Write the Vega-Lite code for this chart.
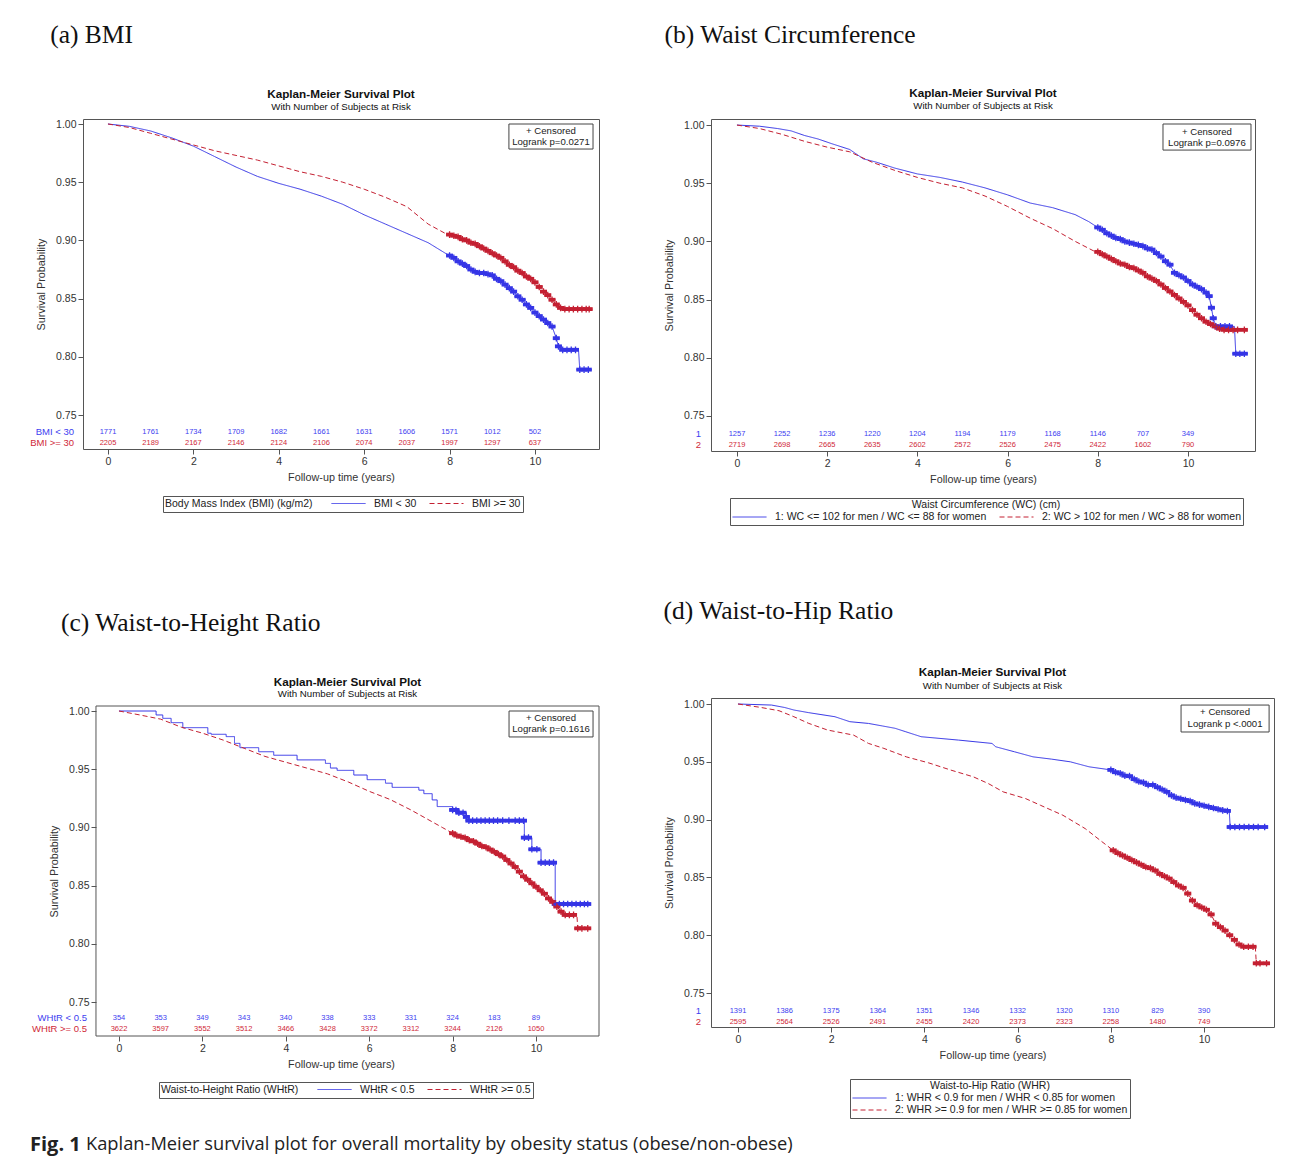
{
"$schema":"https://vega.github.io/schema/vega-lite/v6.json",
"background":"white",
"padding":{"left":29,"top":22,"right":5,"bottom":2},
"datasets":{
"curves":[
{"p":"a","g":1,"t":0,"s":1},{"p":"a","g":1,"t":0.5,"s":0.998},{"p":"a","g":1,"t":1,"s":0.994},{"p":"a","g":1,"t":1.5,"s":0.988},{"p":"a","g":1,"t":2,"s":0.981},{"p":"a","g":1,"t":2.5,"s":0.972},{"p":"a","g":1,"t":3,"s":0.963},{"p":"a","g":1,"t":3.5,"s":0.955},{"p":"a","g":1,"t":4,"s":0.949},{"p":"a","g":1,"t":4.5,"s":0.944},{"p":"a","g":1,"t":5,"s":0.938},{"p":"a","g":1,"t":5.5,"s":0.931},{"p":"a","g":1,"t":6,"s":0.922},{"p":"a","g":1,"t":6.5,"s":0.914},{"p":"a","g":1,"t":7,"s":0.906},{"p":"a","g":1,"t":7.5,"s":0.898},{"p":"a","g":1,"t":7.9,"s":0.889},
{"p":"a","g":1,"t":8,"s":0.887,"c":1},{"p":"a","g":1,"t":8.1,"s":0.885,"c":1},{"p":"a","g":1,"t":8.2,"s":0.882,"c":1},{"p":"a","g":1,"t":8.3,"s":0.88,"c":1},{"p":"a","g":1,"t":8.4,"s":0.878,"c":1},{"p":"a","g":1,"t":8.5,"s":0.875,"c":1},{"p":"a","g":1,"t":8.6,"s":0.873,"c":1},{"p":"a","g":1,"t":8.7,"s":0.872,"c":1},{"p":"a","g":1,"t":8.8,"s":0.872,"c":1},{"p":"a","g":1,"t":8.9,"s":0.871,"c":1},{"p":"a","g":1,"t":9,"s":0.87,"c":1},{"p":"a","g":1,"t":9.1,"s":0.867,"c":1},{"p":"a","g":1,"t":9.2,"s":0.865,"c":1},{"p":"a","g":1,"t":9.3,"s":0.862,"c":1},{"p":"a","g":1,"t":9.4,"s":0.859,"c":1},{"p":"a","g":1,"t":9.5,"s":0.856,"c":1},{"p":"a","g":1,"t":9.6,"s":0.852,"c":1},{"p":"a","g":1,"t":9.7,"s":0.849,"c":1},{"p":"a","g":1,"t":9.8,"s":0.845,"c":1},{"p":"a","g":1,"t":9.9,"s":0.842,"c":1},{"p":"a","g":1,"t":10,"s":0.838,"c":1},{"p":"a","g":1,"t":10.1,"s":0.835,"c":1},{"p":"a","g":1,"t":10.2,"s":0.832,"c":1},{"p":"a","g":1,"t":10.3,"s":0.829,"c":1},{"p":"a","g":1,"t":10.4,"s":0.826,"c":1},{"p":"a","g":1,"t":10.5,"s":0.816,"c":1},{"p":"a","g":1,"t":10.55,"s":0.809,"c":1},{"p":"a","g":1,"t":10.65,"s":0.806,"c":1},{"p":"a","g":1,"t":10.75,"s":0.806,"c":1},{"p":"a","g":1,"t":10.85,"s":0.806,"c":1},{"p":"a","g":1,"t":10.95,"s":0.806,"c":1},{"p":"a","g":1,"t":11.02,"s":0.806},{"p":"a","g":1,"t":11.05,"s":0.789,"c":1},{"p":"a","g":1,"t":11.15,"s":0.789,"c":1},{"p":"a","g":1,"t":11.25,"s":0.789,"c":1},
{"p":"a","g":2,"t":0,"s":1},{"p":"a","g":2,"t":0.5,"s":0.997},{"p":"a","g":2,"t":1,"s":0.992},{"p":"a","g":2,"t":1.5,"s":0.987},{"p":"a","g":2,"t":2,"s":0.982},{"p":"a","g":2,"t":2.5,"s":0.977},{"p":"a","g":2,"t":3,"s":0.973},{"p":"a","g":2,"t":3.5,"s":0.969},{"p":"a","g":2,"t":4,"s":0.964},{"p":"a","g":2,"t":4.5,"s":0.959},{"p":"a","g":2,"t":5,"s":0.955},{"p":"a","g":2,"t":5.5,"s":0.95},{"p":"a","g":2,"t":6,"s":0.944},{"p":"a","g":2,"t":6.5,"s":0.937},{"p":"a","g":2,"t":7,"s":0.929},{"p":"a","g":2,"t":7.5,"s":0.914},{"p":"a","g":2,"t":7.9,"s":0.906},
{"p":"a","g":2,"t":8,"s":0.905,"c":1},{"p":"a","g":2,"t":8.1,"s":0.904,"c":1},{"p":"a","g":2,"t":8.2,"s":0.903,"c":1},{"p":"a","g":2,"t":8.3,"s":0.901,"c":1},{"p":"a","g":2,"t":8.4,"s":0.9,"c":1},{"p":"a","g":2,"t":8.5,"s":0.898,"c":1},{"p":"a","g":2,"t":8.6,"s":0.897,"c":1},{"p":"a","g":2,"t":8.7,"s":0.895,"c":1},{"p":"a","g":2,"t":8.8,"s":0.893,"c":1},{"p":"a","g":2,"t":8.9,"s":0.891,"c":1},{"p":"a","g":2,"t":9,"s":0.889,"c":1},{"p":"a","g":2,"t":9.1,"s":0.887,"c":1},{"p":"a","g":2,"t":9.2,"s":0.885,"c":1},{"p":"a","g":2,"t":9.3,"s":0.882,"c":1},{"p":"a","g":2,"t":9.4,"s":0.879,"c":1},{"p":"a","g":2,"t":9.5,"s":0.877,"c":1},{"p":"a","g":2,"t":9.6,"s":0.874,"c":1},{"p":"a","g":2,"t":9.7,"s":0.872,"c":1},{"p":"a","g":2,"t":9.8,"s":0.869,"c":1},{"p":"a","g":2,"t":9.9,"s":0.867,"c":1},{"p":"a","g":2,"t":10,"s":0.864,"c":1},{"p":"a","g":2,"t":10.1,"s":0.86,"c":1},{"p":"a","g":2,"t":10.2,"s":0.856,"c":1},{"p":"a","g":2,"t":10.3,"s":0.853,"c":1},{"p":"a","g":2,"t":10.4,"s":0.849,"c":1},{"p":"a","g":2,"t":10.5,"s":0.845,"c":1},{"p":"a","g":2,"t":10.6,"s":0.842,"c":1},{"p":"a","g":2,"t":10.7,"s":0.841,"c":1},{"p":"a","g":2,"t":10.8,"s":0.841,"c":1},{"p":"a","g":2,"t":10.9,"s":0.841,"c":1},{"p":"a","g":2,"t":11,"s":0.841,"c":1},{"p":"a","g":2,"t":11.1,"s":0.841,"c":1},{"p":"a","g":2,"t":11.2,"s":0.841,"c":1},{"p":"a","g":2,"t":11.27,"s":0.841,"c":1},
{"p":"b","g":1,"t":0,"s":1},{"p":"b","g":1,"t":0.5,"s":0.999},{"p":"b","g":1,"t":0.9,"s":0.997},{"p":"b","g":1,"t":1.2,"s":0.995},{"p":"b","g":1,"t":1.5,"s":0.991},{"p":"b","g":1,"t":1.8,"s":0.988},{"p":"b","g":1,"t":2.1,"s":0.984},{"p":"b","g":1,"t":2.5,"s":0.979},{"p":"b","g":1,"t":2.8,"s":0.971},{"p":"b","g":1,"t":3.1,"s":0.968},{"p":"b","g":1,"t":3.5,"s":0.963},{"p":"b","g":1,"t":4,"s":0.958},{"p":"b","g":1,"t":4.5,"s":0.955},{"p":"b","g":1,"t":5,"s":0.951},{"p":"b","g":1,"t":5.5,"s":0.946},{"p":"b","g":1,"t":6,"s":0.94},{"p":"b","g":1,"t":6.5,"s":0.933},{"p":"b","g":1,"t":7,"s":0.929},{"p":"b","g":1,"t":7.5,"s":0.923},{"p":"b","g":1,"t":7.8,"s":0.917},
{"p":"b","g":1,"t":8,"s":0.912,"c":1},{"p":"b","g":1,"t":8.1,"s":0.91,"c":1},{"p":"b","g":1,"t":8.2,"s":0.907,"c":1},{"p":"b","g":1,"t":8.3,"s":0.905,"c":1},{"p":"b","g":1,"t":8.4,"s":0.903,"c":1},{"p":"b","g":1,"t":8.5,"s":0.902,"c":1},{"p":"b","g":1,"t":8.6,"s":0.9,"c":1},{"p":"b","g":1,"t":8.7,"s":0.899,"c":1},{"p":"b","g":1,"t":8.8,"s":0.898,"c":1},{"p":"b","g":1,"t":8.9,"s":0.897,"c":1},{"p":"b","g":1,"t":9,"s":0.896,"c":1},{"p":"b","g":1,"t":9.1,"s":0.894,"c":1},{"p":"b","g":1,"t":9.2,"s":0.893,"c":1},{"p":"b","g":1,"t":9.3,"s":0.89,"c":1},{"p":"b","g":1,"t":9.4,"s":0.887,"c":1},{"p":"b","g":1,"t":9.5,"s":0.883,"c":1},{"p":"b","g":1,"t":9.6,"s":0.88,"c":1},{"p":"b","g":1,"t":9.7,"s":0.873,"c":1},{"p":"b","g":1,"t":9.8,"s":0.871,"c":1},{"p":"b","g":1,"t":9.9,"s":0.869,"c":1},{"p":"b","g":1,"t":10,"s":0.866,"c":1},{"p":"b","g":1,"t":10.1,"s":0.863,"c":1},{"p":"b","g":1,"t":10.2,"s":0.861,"c":1},{"p":"b","g":1,"t":10.3,"s":0.859,"c":1},{"p":"b","g":1,"t":10.4,"s":0.856,"c":1},{"p":"b","g":1,"t":10.47,"s":0.853,"c":1},{"p":"b","g":1,"t":10.52,"s":0.843,"c":1},{"p":"b","g":1,"t":10.56,"s":0.834,"c":1},{"p":"b","g":1,"t":10.62,"s":0.827,"c":1},{"p":"b","g":1,"t":10.72,"s":0.827,"c":1},{"p":"b","g":1,"t":10.82,"s":0.827,"c":1},{"p":"b","g":1,"t":10.92,"s":0.827,"c":1},{"p":"b","g":1,"t":11.03,"s":0.827},{"p":"b","g":1,"t":11.06,"s":0.8035,"c":1},{"p":"b","g":1,"t":11.15,"s":0.8035,"c":1},{"p":"b","g":1,"t":11.25,"s":0.8035,"c":1},
{"p":"b","g":2,"t":0,"s":1},{"p":"b","g":2,"t":0.5,"s":0.997},{"p":"b","g":2,"t":1,"s":0.992},{"p":"b","g":2,"t":1.5,"s":0.986},{"p":"b","g":2,"t":2,"s":0.981},{"p":"b","g":2,"t":2.5,"s":0.977},{"p":"b","g":2,"t":3,"s":0.968},{"p":"b","g":2,"t":3.5,"s":0.961},{"p":"b","g":2,"t":4,"s":0.955},{"p":"b","g":2,"t":4.5,"s":0.95},{"p":"b","g":2,"t":5,"s":0.946},{"p":"b","g":2,"t":5.5,"s":0.939},{"p":"b","g":2,"t":6,"s":0.93},{"p":"b","g":2,"t":6.5,"s":0.92},{"p":"b","g":2,"t":7,"s":0.911},{"p":"b","g":2,"t":7.5,"s":0.9},{"p":"b","g":2,"t":7.9,"s":0.892},
{"p":"b","g":2,"t":8,"s":0.891,"c":1},{"p":"b","g":2,"t":8.1,"s":0.889,"c":1},{"p":"b","g":2,"t":8.2,"s":0.887,"c":1},{"p":"b","g":2,"t":8.3,"s":0.885,"c":1},{"p":"b","g":2,"t":8.4,"s":0.883,"c":1},{"p":"b","g":2,"t":8.5,"s":0.881,"c":1},{"p":"b","g":2,"t":8.6,"s":0.88,"c":1},{"p":"b","g":2,"t":8.7,"s":0.878,"c":1},{"p":"b","g":2,"t":8.8,"s":0.877,"c":1},{"p":"b","g":2,"t":8.9,"s":0.875,"c":1},{"p":"b","g":2,"t":9,"s":0.873,"c":1},{"p":"b","g":2,"t":9.1,"s":0.87,"c":1},{"p":"b","g":2,"t":9.2,"s":0.868,"c":1},{"p":"b","g":2,"t":9.3,"s":0.866,"c":1},{"p":"b","g":2,"t":9.4,"s":0.863,"c":1},{"p":"b","g":2,"t":9.5,"s":0.86,"c":1},{"p":"b","g":2,"t":9.6,"s":0.857,"c":1},{"p":"b","g":2,"t":9.7,"s":0.854,"c":1},{"p":"b","g":2,"t":9.8,"s":0.851,"c":1},{"p":"b","g":2,"t":9.9,"s":0.848,"c":1},{"p":"b","g":2,"t":10,"s":0.845,"c":1},{"p":"b","g":2,"t":10.1,"s":0.841,"c":1},{"p":"b","g":2,"t":10.2,"s":0.837,"c":1},{"p":"b","g":2,"t":10.3,"s":0.834,"c":1},{"p":"b","g":2,"t":10.4,"s":0.831,"c":1},{"p":"b","g":2,"t":10.5,"s":0.829,"c":1},{"p":"b","g":2,"t":10.6,"s":0.827,"c":1},{"p":"b","g":2,"t":10.7,"s":0.825,"c":1},{"p":"b","g":2,"t":10.8,"s":0.824,"c":1},{"p":"b","g":2,"t":10.9,"s":0.824,"c":1},{"p":"b","g":2,"t":11,"s":0.824,"c":1},{"p":"b","g":2,"t":11.1,"s":0.824,"c":1},{"p":"b","g":2,"t":11.25,"s":0.824,"c":1},
{"p":"c","g":1,"t":0,"s":1},{"p":"c","g":1,"t":0.89,"s":0.9966},{"p":"c","g":1,"t":1.05,"s":0.9937},{"p":"c","g":1,"t":1.25,"s":0.99},{"p":"c","g":1,"t":1.53,"s":0.9857},{"p":"c","g":1,"t":2.13,"s":0.9809},{"p":"c","g":1,"t":2.21,"s":0.98},{"p":"c","g":1,"t":2.57,"s":0.978},{"p":"c","g":1,"t":2.77,"s":0.9722},{"p":"c","g":1,"t":2.9,"s":0.9685},{"p":"c","g":1,"t":3.35,"s":0.965},{"p":"c","g":1,"t":3.71,"s":0.962},{"p":"c","g":1,"t":4.27,"s":0.958},{"p":"c","g":1,"t":4.95,"s":0.955},{"p":"c","g":1,"t":5.07,"s":0.951},{"p":"c","g":1,"t":5.23,"s":0.949},{"p":"c","g":1,"t":5.63,"s":0.945},{"p":"c","g":1,"t":5.95,"s":0.941},{"p":"c","g":1,"t":6.39,"s":0.938},{"p":"c","g":1,"t":6.55,"s":0.9344},{"p":"c","g":1,"t":7.19,"s":0.932},{"p":"c","g":1,"t":7.31,"s":0.929},{"p":"c","g":1,"t":7.51,"s":0.9236},{"p":"c","g":1,"t":7.63,"s":0.9179},
{"p":"c","g":1,"t":8,"s":0.915,"c":1},{"p":"c","g":1,"t":8.08,"s":0.915,"c":1},{"p":"c","g":1,"t":8.15,"s":0.9126,"c":1},{"p":"c","g":1,"t":8.25,"s":0.9126,"c":1},{"p":"c","g":1,"t":8.33,"s":0.909,"c":1},{"p":"c","g":1,"t":8.39,"s":0.9058,"c":1},{"p":"c","g":1,"t":8.48,"s":0.9058,"c":1},{"p":"c","g":1,"t":8.58,"s":0.9058,"c":1},{"p":"c","g":1,"t":8.68,"s":0.9058,"c":1},{"p":"c","g":1,"t":8.78,"s":0.9058,"c":1},{"p":"c","g":1,"t":8.88,"s":0.9058,"c":1},{"p":"c","g":1,"t":8.98,"s":0.9058,"c":1},{"p":"c","g":1,"t":9.08,"s":0.9058,"c":1},{"p":"c","g":1,"t":9.2,"s":0.9058,"c":1},{"p":"c","g":1,"t":9.35,"s":0.9058,"c":1},{"p":"c","g":1,"t":9.5,"s":0.9058,"c":1},{"p":"c","g":1,"t":9.6,"s":0.9058,"c":1},{"p":"c","g":1,"t":9.7,"s":0.9058,"c":1},{"p":"c","g":1,"t":9.72,"s":0.8912,"c":1},{"p":"c","g":1,"t":9.82,"s":0.8912,"c":1},{"p":"c","g":1,"t":9.9,"s":0.8812,"c":1},{"p":"c","g":1,"t":10.02,"s":0.8812,"c":1},{"p":"c","g":1,"t":10.12,"s":0.8697,"c":1},{"p":"c","g":1,"t":10.22,"s":0.8697,"c":1},{"p":"c","g":1,"t":10.32,"s":0.8697,"c":1},{"p":"c","g":1,"t":10.42,"s":0.8697,"c":1},{"p":"c","g":1,"t":10.46,"s":0.8342,"c":1},{"p":"c","g":1,"t":10.56,"s":0.8342,"c":1},{"p":"c","g":1,"t":10.66,"s":0.8342,"c":1},{"p":"c","g":1,"t":10.76,"s":0.8342,"c":1},{"p":"c","g":1,"t":10.86,"s":0.8342,"c":1},{"p":"c","g":1,"t":10.96,"s":0.8342,"c":1},{"p":"c","g":1,"t":11.06,"s":0.8342,"c":1},{"p":"c","g":1,"t":11.16,"s":0.8342,"c":1},{"p":"c","g":1,"t":11.24,"s":0.8342,"c":1},
{"p":"c","g":2,"t":0,"s":1},{"p":"c","g":2,"t":0.5,"s":0.9966},{"p":"c","g":2,"t":1,"s":0.993},{"p":"c","g":2,"t":1.5,"s":0.986},{"p":"c","g":2,"t":2,"s":0.981},{"p":"c","g":2,"t":2.5,"s":0.975},{"p":"c","g":2,"t":3,"s":0.968},{"p":"c","g":2,"t":3.5,"s":0.961},{"p":"c","g":2,"t":4,"s":0.956},{"p":"c","g":2,"t":4.5,"s":0.951},{"p":"c","g":2,"t":5,"s":0.946},{"p":"c","g":2,"t":5.5,"s":0.939},{"p":"c","g":2,"t":6,"s":0.931},{"p":"c","g":2,"t":6.5,"s":0.924},{"p":"c","g":2,"t":7,"s":0.915},{"p":"c","g":2,"t":7.5,"s":0.905},{"p":"c","g":2,"t":7.75,"s":0.9},
{"p":"c","g":2,"t":8,"s":0.895,"c":1},{"p":"c","g":2,"t":8.1,"s":0.893,"c":1},{"p":"c","g":2,"t":8.2,"s":0.892,"c":1},{"p":"c","g":2,"t":8.3,"s":0.891,"c":1},{"p":"c","g":2,"t":8.4,"s":0.889,"c":1},{"p":"c","g":2,"t":8.5,"s":0.888,"c":1},{"p":"c","g":2,"t":8.6,"s":0.886,"c":1},{"p":"c","g":2,"t":8.7,"s":0.884,"c":1},{"p":"c","g":2,"t":8.8,"s":0.883,"c":1},{"p":"c","g":2,"t":8.9,"s":0.881,"c":1},{"p":"c","g":2,"t":9,"s":0.879,"c":1},{"p":"c","g":2,"t":9.1,"s":0.877,"c":1},{"p":"c","g":2,"t":9.2,"s":0.875,"c":1},{"p":"c","g":2,"t":9.3,"s":0.872,"c":1},{"p":"c","g":2,"t":9.4,"s":0.869,"c":1},{"p":"c","g":2,"t":9.5,"s":0.866,"c":1},{"p":"c","g":2,"t":9.6,"s":0.862,"c":1},{"p":"c","g":2,"t":9.7,"s":0.858,"c":1},{"p":"c","g":2,"t":9.8,"s":0.855,"c":1},{"p":"c","g":2,"t":9.9,"s":0.852,"c":1},{"p":"c","g":2,"t":10,"s":0.849,"c":1},{"p":"c","g":2,"t":10.1,"s":0.846,"c":1},{"p":"c","g":2,"t":10.2,"s":0.843,"c":1},{"p":"c","g":2,"t":10.3,"s":0.839,"c":1},{"p":"c","g":2,"t":10.4,"s":0.836,"c":1},{"p":"c","g":2,"t":10.5,"s":0.832,"c":1},{"p":"c","g":2,"t":10.6,"s":0.8276,"c":1},{"p":"c","g":2,"t":10.7,"s":0.8248,"c":1},{"p":"c","g":2,"t":10.8,"s":0.8248,"c":1},{"p":"c","g":2,"t":10.9,"s":0.8248,"c":1},{"p":"c","g":2,"t":10.98,"s":0.8248},{"p":"c","g":2,"t":11,"s":0.8133,"c":1},{"p":"c","g":2,"t":11.1,"s":0.8133,"c":1},{"p":"c","g":2,"t":11.24,"s":0.8133,"c":1},
{"p":"d","g":1,"t":0,"s":1},{"p":"d","g":1,"t":0.72,"s":0.9991},{"p":"d","g":1,"t":1,"s":0.997},{"p":"d","g":1,"t":1.2,"s":0.9948},{"p":"d","g":1,"t":1.52,"s":0.9925},{"p":"d","g":1,"t":2.08,"s":0.989},{"p":"d","g":1,"t":2.4,"s":0.9847},{"p":"d","g":1,"t":2.8,"s":0.9832},{"p":"d","g":1,"t":3.1,"s":0.981},{"p":"d","g":1,"t":3.37,"s":0.979},{"p":"d","g":1,"t":3.6,"s":0.976},{"p":"d","g":1,"t":3.93,"s":0.9717},{"p":"d","g":1,"t":4.73,"s":0.9688},{"p":"d","g":1,"t":5.45,"s":0.9659},{"p":"d","g":1,"t":5.53,"s":0.963},{"p":"d","g":1,"t":5.93,"s":0.9587},{"p":"d","g":1,"t":6.33,"s":0.9543},{"p":"d","g":1,"t":6.73,"s":0.9523},{"p":"d","g":1,"t":7.13,"s":0.95},{"p":"d","g":1,"t":7.53,"s":0.9457},
{"p":"d","g":1,"t":8,"s":0.943,"c":1},{"p":"d","g":1,"t":8.1,"s":0.941,"c":1},{"p":"d","g":1,"t":8.2,"s":0.94,"c":1},{"p":"d","g":1,"t":8.3,"s":0.938,"c":1},{"p":"d","g":1,"t":8.4,"s":0.9376,"c":1},{"p":"d","g":1,"t":8.5,"s":0.935,"c":1},{"p":"d","g":1,"t":8.6,"s":0.933,"c":1},{"p":"d","g":1,"t":8.7,"s":0.932,"c":1},{"p":"d","g":1,"t":8.8,"s":0.93,"c":1},{"p":"d","g":1,"t":8.9,"s":0.93,"c":1},{"p":"d","g":1,"t":9,"s":0.928,"c":1},{"p":"d","g":1,"t":9.1,"s":0.926,"c":1},{"p":"d","g":1,"t":9.2,"s":0.924,"c":1},{"p":"d","g":1,"t":9.3,"s":0.921,"c":1},{"p":"d","g":1,"t":9.4,"s":0.919,"c":1},{"p":"d","g":1,"t":9.5,"s":0.918,"c":1},{"p":"d","g":1,"t":9.6,"s":0.917,"c":1},{"p":"d","g":1,"t":9.7,"s":0.916,"c":1},{"p":"d","g":1,"t":9.8,"s":0.914,"c":1},{"p":"d","g":1,"t":9.9,"s":0.913,"c":1},{"p":"d","g":1,"t":10,"s":0.912,"c":1},{"p":"d","g":1,"t":10.1,"s":0.911,"c":1},{"p":"d","g":1,"t":10.2,"s":0.91,"c":1},{"p":"d","g":1,"t":10.3,"s":0.909,"c":1},{"p":"d","g":1,"t":10.4,"s":0.908,"c":1},{"p":"d","g":1,"t":10.5,"s":0.9075,"c":1},{"p":"d","g":1,"t":10.54,"s":0.9075},{"p":"d","g":1,"t":10.56,"s":0.8936,"c":1},{"p":"d","g":1,"t":10.66,"s":0.8936,"c":1},{"p":"d","g":1,"t":10.76,"s":0.8936,"c":1},{"p":"d","g":1,"t":10.86,"s":0.8936,"c":1},{"p":"d","g":1,"t":10.96,"s":0.8936,"c":1},{"p":"d","g":1,"t":11.06,"s":0.8936,"c":1},{"p":"d","g":1,"t":11.16,"s":0.8936,"c":1},{"p":"d","g":1,"t":11.3,"s":0.8936,"c":1},
{"p":"d","g":2,"t":0,"s":1},{"p":"d","g":2,"t":0.48,"s":0.9971},{"p":"d","g":2,"t":0.88,"s":0.9942},{"p":"d","g":2,"t":1.2,"s":0.989},{"p":"d","g":2,"t":1.52,"s":0.9832},{"p":"d","g":2,"t":1.92,"s":0.9775},{"p":"d","g":2,"t":2.48,"s":0.9731},{"p":"d","g":2,"t":2.8,"s":0.9659},{"p":"d","g":2,"t":3.13,"s":0.9616},{"p":"d","g":2,"t":3.61,"s":0.9543},{"p":"d","g":2,"t":4.09,"s":0.9491},{"p":"d","g":2,"t":4.57,"s":0.9428},{"p":"d","g":2,"t":5.05,"s":0.937},{"p":"d","g":2,"t":5.37,"s":0.9312},{"p":"d","g":2,"t":5.69,"s":0.924},{"p":"d","g":2,"t":6.17,"s":0.9182},{"p":"d","g":2,"t":6.49,"s":0.9124},{"p":"d","g":2,"t":6.97,"s":0.9038},{"p":"d","g":2,"t":7.45,"s":0.8922},{"p":"d","g":2,"t":7.77,"s":0.8821},
{"p":"d","g":2,"t":8.05,"s":0.8734,"c":1},{"p":"d","g":2,"t":8.15,"s":0.871,"c":1},{"p":"d","g":2,"t":8.25,"s":0.869,"c":1},{"p":"d","g":2,"t":8.35,"s":0.867,"c":1},{"p":"d","g":2,"t":8.45,"s":0.865,"c":1},{"p":"d","g":2,"t":8.55,"s":0.863,"c":1},{"p":"d","g":2,"t":8.65,"s":0.861,"c":1},{"p":"d","g":2,"t":8.75,"s":0.859,"c":1},{"p":"d","g":2,"t":8.85,"s":0.858,"c":1},{"p":"d","g":2,"t":8.95,"s":0.856,"c":1},{"p":"d","g":2,"t":9.05,"s":0.853,"c":1},{"p":"d","g":2,"t":9.15,"s":0.851,"c":1},{"p":"d","g":2,"t":9.25,"s":0.849,"c":1},{"p":"d","g":2,"t":9.35,"s":0.846,"c":1},{"p":"d","g":2,"t":9.45,"s":0.843,"c":1},{"p":"d","g":2,"t":9.55,"s":0.841,"c":1},{"p":"d","g":2,"t":9.65,"s":0.836,"c":1},{"p":"d","g":2,"t":9.75,"s":0.83,"c":1},{"p":"d","g":2,"t":9.85,"s":0.826,"c":1},{"p":"d","g":2,"t":9.95,"s":0.824,"c":1},{"p":"d","g":2,"t":10.05,"s":0.822,"c":1},{"p":"d","g":2,"t":10.15,"s":0.818,"c":1},{"p":"d","g":2,"t":10.25,"s":0.81,"c":1},{"p":"d","g":2,"t":10.35,"s":0.807,"c":1},{"p":"d","g":2,"t":10.45,"s":0.804,"c":1},{"p":"d","g":2,"t":10.55,"s":0.8,"c":1},{"p":"d","g":2,"t":10.65,"s":0.796,"c":1},{"p":"d","g":2,"t":10.75,"s":0.792,"c":1},{"p":"d","g":2,"t":10.85,"s":0.79,"c":1},{"p":"d","g":2,"t":10.95,"s":0.79,"c":1},{"p":"d","g":2,"t":11.05,"s":0.79,"c":1},{"p":"d","g":2,"t":11.1,"s":0.79},{"p":"d","g":2,"t":11.12,"s":0.7757,"c":1},{"p":"d","g":2,"t":11.2,"s":0.7757,"c":1},{"p":"d","g":2,"t":11.34,"s":0.7757,"c":1}
],
"risk":[
{"p":"a","g":1,"t":0,"n":1771},{"p":"a","g":1,"t":1,"n":1761},{"p":"a","g":1,"t":2,"n":1734},{"p":"a","g":1,"t":3,"n":1709},{"p":"a","g":1,"t":4,"n":1682},{"p":"a","g":1,"t":5,"n":1661},{"p":"a","g":1,"t":6,"n":1631},{"p":"a","g":1,"t":7,"n":1606},{"p":"a","g":1,"t":8,"n":1571},{"p":"a","g":1,"t":9,"n":1012},{"p":"a","g":1,"t":10,"n":502},
{"p":"a","g":2,"t":0,"n":2205},{"p":"a","g":2,"t":1,"n":2189},{"p":"a","g":2,"t":2,"n":2167},{"p":"a","g":2,"t":3,"n":2146},{"p":"a","g":2,"t":4,"n":2124},{"p":"a","g":2,"t":5,"n":2106},{"p":"a","g":2,"t":6,"n":2074},{"p":"a","g":2,"t":7,"n":2037},{"p":"a","g":2,"t":8,"n":1997},{"p":"a","g":2,"t":9,"n":1297},{"p":"a","g":2,"t":10,"n":637},
{"p":"b","g":1,"t":0,"n":1257},{"p":"b","g":1,"t":1,"n":1252},{"p":"b","g":1,"t":2,"n":1236},{"p":"b","g":1,"t":3,"n":1220},{"p":"b","g":1,"t":4,"n":1204},{"p":"b","g":1,"t":5,"n":1194},{"p":"b","g":1,"t":6,"n":1179},{"p":"b","g":1,"t":7,"n":1168},{"p":"b","g":1,"t":8,"n":1146},{"p":"b","g":1,"t":9,"n":707},{"p":"b","g":1,"t":10,"n":349},
{"p":"b","g":2,"t":0,"n":2719},{"p":"b","g":2,"t":1,"n":2698},{"p":"b","g":2,"t":2,"n":2665},{"p":"b","g":2,"t":3,"n":2635},{"p":"b","g":2,"t":4,"n":2602},{"p":"b","g":2,"t":5,"n":2572},{"p":"b","g":2,"t":6,"n":2526},{"p":"b","g":2,"t":7,"n":2475},{"p":"b","g":2,"t":8,"n":2422},{"p":"b","g":2,"t":9,"n":1602},{"p":"b","g":2,"t":10,"n":790},
{"p":"c","g":1,"t":0,"n":354},{"p":"c","g":1,"t":1,"n":353},{"p":"c","g":1,"t":2,"n":349},{"p":"c","g":1,"t":3,"n":343},{"p":"c","g":1,"t":4,"n":340},{"p":"c","g":1,"t":5,"n":338},{"p":"c","g":1,"t":6,"n":333},{"p":"c","g":1,"t":7,"n":331},{"p":"c","g":1,"t":8,"n":324},{"p":"c","g":1,"t":9,"n":183},{"p":"c","g":1,"t":10,"n":89},
{"p":"c","g":2,"t":0,"n":3622},{"p":"c","g":2,"t":1,"n":3597},{"p":"c","g":2,"t":2,"n":3552},{"p":"c","g":2,"t":3,"n":3512},{"p":"c","g":2,"t":4,"n":3466},{"p":"c","g":2,"t":5,"n":3428},{"p":"c","g":2,"t":6,"n":3372},{"p":"c","g":2,"t":7,"n":3312},{"p":"c","g":2,"t":8,"n":3244},{"p":"c","g":2,"t":9,"n":2126},{"p":"c","g":2,"t":10,"n":1050},
{"p":"d","g":1,"t":0,"n":1391},{"p":"d","g":1,"t":1,"n":1386},{"p":"d","g":1,"t":2,"n":1375},{"p":"d","g":1,"t":3,"n":1364},{"p":"d","g":1,"t":4,"n":1351},{"p":"d","g":1,"t":5,"n":1346},{"p":"d","g":1,"t":6,"n":1332},{"p":"d","g":1,"t":7,"n":1320},{"p":"d","g":1,"t":8,"n":1310},{"p":"d","g":1,"t":9,"n":829},{"p":"d","g":1,"t":10,"n":390},
{"p":"d","g":2,"t":0,"n":2595},{"p":"d","g":2,"t":1,"n":2564},{"p":"d","g":2,"t":2,"n":2526},{"p":"d","g":2,"t":3,"n":2491},{"p":"d","g":2,"t":4,"n":2455},{"p":"d","g":2,"t":5,"n":2420},{"p":"d","g":2,"t":6,"n":2373},{"p":"d","g":2,"t":7,"n":2323},{"p":"d","g":2,"t":8,"n":2258},{"p":"d","g":2,"t":9,"n":1480},{"p":"d","g":2,"t":10,"n":749}
]
},
"concat":[
{
"concat":[
{
"width":516,"height":330,
"title":{"text":"(a) BMI","dx":20,"offset":40},
"layer":[
{"data":{"name":"curves"},"transform":[{"filter":"datum.p=='a'"}],"mark":{"type":"line","interpolate":"linear","strokeWidth":1},
"encoding":{
"x":{"field":"t","type":"quantitative","scale":{"domain":[-0.585,11.5],"nice":false,"zero":false},"axis":{"values":[0,2,4,6,8,10],"title":"Follow-up time (years)","labelPadding":2,"titlePadding":5}},
"y":{"field":"s","type":"quantitative","scale":{"domain":[0.7208,1.0043],"nice":false,"zero":false},"axis":{"values":[0.75,0.8,0.85,0.9,0.95,1],"format":".2f","title":"Survival Probability","titlePadding":9,"labelPadding":2}},
"color":{"field":"g","type":"nominal","scale":{"domain":[1,2],"range":["#3535e6","#c42032"]},"legend":{"orient":"none","legendX":80,"legendY":377,"direction":"horizontal","title":"Body Mass Index (BMI) (kg/m2)","titleOrient":"left","labelExpr":"datum.value==1?'BMI < 30':'BMI >= 30'","encode":{"symbols":{"update":{"stroke":{"signal":"datum.value==2?'#c42032':'#3535e6'"},"strokeDash":{"signal":"datum.value==2?[5,3]:[1,0]"}}}}}},
"strokeDash":{"field":"g","type":"nominal","scale":{"domain":[1,2],"range":[[1,0],[5,3]]},"legend":null}
}},
{"data":{"name":"curves"},"transform":[{"filter":"datum.p=='a' && datum.c==1"}],"mark":{"type":"point","shape":"M-1,-0.55H1V0.55H-1Z","filled":true,"size":49,"opacity":1},
"encoding":{"x":{"field":"t","type":"quantitative"},"y":{"field":"s","type":"quantitative"},"color":{"field":"g","type":"nominal"}}},
{"data":{"name":"curves"},"transform":[{"filter":"datum.p=='a' && datum.c==1"}],"mark":{"type":"point","shape":"M-1,0H1M0,-1V1","filled":false,"size":44,"strokeWidth":1.3,"opacity":1},
"encoding":{"x":{"field":"t","type":"quantitative"},"y":{"field":"s","type":"quantitative"},"color":{"field":"g","type":"nominal"}}},
{"data":{"name":"risk"},"transform":[{"filter":"datum.p=='a' && datum.g==1"}],"mark":{"type":"text","fontSize":7.5,"color":"#4040f0"},"encoding":{"x":{"field":"t","type":"quantitative"},"y":{"datum":0.7355},"text":{"field":"n"}}},
{"data":{"name":"risk"},"transform":[{"filter":"datum.p=='a' && datum.g==2"}],"mark":{"type":"text","fontSize":7.5,"color":"#d02838"},"encoding":{"x":{"field":"t","type":"quantitative"},"y":{"datum":0.726},"text":{"field":"n"}}},
{"data":{"values":[{}]},"mark":{"type":"text","align":"right","dx":-9,"fontSize":9.5,"color":"#4040f0"},"encoding":{"x":{"datum":-0.585},"y":{"datum":0.7355},"text":{"value":"BMI < 30"}}},
{"data":{"values":[{}]},"mark":{"type":"text","align":"right","dx":-9,"fontSize":9.5,"color":"#d02838"},"encoding":{"x":{"datum":-0.585},"y":{"datum":0.726},"text":{"value":"BMI >= 30"}}},
{"data":{"values":[{}]},"mark":{"type":"text","fontSize":11.7,"fontWeight":"bold","color":"#111"},"encoding":{"x":{"datum":5.4575},"y":{"datum":1.0258},"text":{"value":"Kaplan-Meier Survival Plot"}}},
{"data":{"values":[{}]},"mark":{"type":"text","fontSize":9.7,"color":"#111"},"encoding":{"x":{"datum":5.4575},"y":{"datum":1.0146},"text":{"value":"With Number of Subjects at Risk"}}},
{"data":{"values":[{}]},"mark":{"type":"rect","fill":"white","stroke":"#444","strokeWidth":1},"encoding":{"x":{"datum":9.39},"x2":{"datum":11.36},"y":{"datum":1.0},"y2":{"datum":0.9785}}},
{"data":{"values":[{}]},"mark":{"type":"text","fontSize":9.6,"color":"#222"},"encoding":{"x":{"datum":10.375},"y":{"datum":0.9937},"text":{"value":"+ Censored"}}},
{"data":{"values":[{}]},"mark":{"type":"text","fontSize":9.6,"color":"#222"},"encoding":{"x":{"datum":10.375},"y":{"datum":0.9845},"text":{"value":"Logrank p=0.0271"}}}
]
},
{
"width":544,"height":332,
"title":{"text":"(b) Waist Circumference","dx":1,"offset":40},
"layer":[
{"data":{"name":"curves"},"transform":[{"filter":"datum.p=='b'"}],"mark":{"type":"line","interpolate":"linear","strokeWidth":1},
"encoding":{
"x":{"field":"t","type":"quantitative","scale":{"domain":[-0.576,11.486],"nice":false,"zero":false},"axis":{"values":[0,2,4,6,8,10],"title":"Follow-up time (years)","labelPadding":2,"titlePadding":5}},
"y":{"field":"s","type":"quantitative","scale":{"domain":[0.7199,1.0052],"nice":false,"zero":false},"axis":{"values":[0.75,0.8,0.85,0.9,0.95,1],"format":".2f","title":"Survival Probability","titlePadding":9,"labelPadding":2}},
"color":{"field":"g","type":"nominal","scale":{"domain":[1,2],"range":["#3535e6","#c42032"]},"legend":{"orient":"none","legendX":19,"legendY":379,"direction":"horizontal","title":"Waist Circumference (WC) (cm)","titleOrient":"top","titleAnchor":"middle","titlePadding":1,"labelExpr":"datum.value==1?'1: WC <= 102 for men / WC <= 88 for women':'2: WC > 102 for men / WC > 88 for women'","encode":{"symbols":{"update":{"stroke":{"signal":"datum.value==2?'#c42032':'#3535e6'"},"strokeDash":{"signal":"datum.value==2?[5,3]:[1,0]"}}}}}},
"strokeDash":{"field":"g","type":"nominal","scale":{"domain":[1,2],"range":[[1,0],[5,3]]},"legend":null}
}},
{"data":{"name":"curves"},"transform":[{"filter":"datum.p=='b' && datum.c==1"}],"mark":{"type":"point","shape":"M-1,-0.55H1V0.55H-1Z","filled":true,"size":49,"opacity":1},
"encoding":{"x":{"field":"t","type":"quantitative"},"y":{"field":"s","type":"quantitative"},"color":{"field":"g","type":"nominal"}}},
{"data":{"name":"curves"},"transform":[{"filter":"datum.p=='b' && datum.c==1"}],"mark":{"type":"point","shape":"M-1,0H1M0,-1V1","filled":false,"size":44,"strokeWidth":1.3,"opacity":1},
"encoding":{"x":{"field":"t","type":"quantitative"},"y":{"field":"s","type":"quantitative"},"color":{"field":"g","type":"nominal"}}},
{"data":{"name":"risk"},"transform":[{"filter":"datum.p=='b' && datum.g==1"}],"mark":{"type":"text","fontSize":7.5,"color":"#4040f0"},"encoding":{"x":{"field":"t","type":"quantitative"},"y":{"datum":0.7346},"text":{"field":"n"}}},
{"data":{"name":"risk"},"transform":[{"filter":"datum.p=='b' && datum.g==2"}],"mark":{"type":"text","fontSize":7.5,"color":"#d02838"},"encoding":{"x":{"field":"t","type":"quantitative"},"y":{"datum":0.7251},"text":{"field":"n"}}},
{"data":{"values":[{}]},"mark":{"type":"text","align":"right","dx":-10,"fontSize":9.5,"color":"#4040f0"},"encoding":{"x":{"datum":-0.576},"y":{"datum":0.7346},"text":{"value":"1"}}},
{"data":{"values":[{}]},"mark":{"type":"text","align":"right","dx":-10,"fontSize":9.5,"color":"#d02838"},"encoding":{"x":{"datum":-0.576},"y":{"datum":0.7251},"text":{"value":"2"}}},
{"data":{"values":[{}]},"mark":{"type":"text","fontSize":11.7,"fontWeight":"bold","color":"#111"},"encoding":{"x":{"datum":5.455},"y":{"datum":1.0275},"text":{"value":"Kaplan-Meier Survival Plot"}}},
{"data":{"values":[{}]},"mark":{"type":"text","fontSize":9.7,"color":"#111"},"encoding":{"x":{"datum":5.455},"y":{"datum":1.0163},"text":{"value":"With Number of Subjects at Risk"}}},
{"data":{"values":[{}]},"mark":{"type":"rect","fill":"white","stroke":"#444","strokeWidth":1},"encoding":{"x":{"datum":9.446},"x2":{"datum":11.397},"y":{"datum":1.0009},"y2":{"datum":0.9785}}},
{"data":{"values":[{}]},"mark":{"type":"text","fontSize":9.6,"color":"#222"},"encoding":{"x":{"datum":10.42},"y":{"datum":0.9937},"text":{"value":"+ Censored"}}},
{"data":{"values":[{}]},"mark":{"type":"text","fontSize":9.6,"color":"#222"},"encoding":{"x":{"datum":10.42},"y":{"datum":0.9845},"text":{"value":"Logrank p=0.0976"}}}
]
},
{
"width":516,"height":330,
"view":{"stroke":null},
"title":{"text":[" ","(c) Waist-to-Height Ratio"],"lineHeight":12,"dx":29,"offset":41},
"layer":[
{"data":{"values":[{}]},"mark":{"type":"rect","fill":"transparent","stroke":"#555","strokeWidth":1},"encoding":{"x":{"datum":-0.552},"x2":{"datum":11.51},"y":{"datum":0.7208},"y2":{"datum":1.0043}}},
{"data":{"name":"curves"},"transform":[{"filter":"datum.p=='c' && datum.g==1"}],"mark":{"type":"line","interpolate":"step-after","strokeWidth":1},
"encoding":{
"x":{"field":"t","type":"quantitative","scale":{"domain":[-0.863,11.51],"nice":false,"zero":false},"axis":{"values":[0,2,4,6,8,10],"title":"Follow-up time (years)","labelPadding":2,"titlePadding":5}},
"y":{"field":"s","type":"quantitative","scale":{"domain":[0.7208,1.0043],"nice":false,"zero":false},"axis":{"values":[0.75,0.8,0.85,0.9,0.95,1],"format":".2f","title":"Survival Probability","titlePadding":9,"labelPadding":2,"offset":-13}},
"color":{"field":"g","type":"nominal","scale":{"domain":[1,2],"range":["#3535e6","#c42032"]},"legend":{"orient":"none","legendX":76,"legendY":376,"direction":"horizontal","title":"Waist-to-Height Ratio (WHtR)","titleOrient":"left","labelExpr":"datum.value==1?'WHtR < 0.5':'WHtR >= 0.5'","encode":{"symbols":{"update":{"stroke":{"signal":"datum.value==2?'#c42032':'#3535e6'"},"strokeDash":{"signal":"datum.value==2?[5,3]:[1,0]"}}}}}},
"strokeDash":{"field":"g","type":"nominal","scale":{"domain":[1,2],"range":[[1,0],[5,3]]},"legend":null}
}},
{"data":{"name":"curves"},"transform":[{"filter":"datum.p=='c' && datum.g==2"}],"mark":{"type":"line","interpolate":"linear","strokeWidth":1},
"encoding":{
"x":{"field":"t","type":"quantitative"},
"y":{"field":"s","type":"quantitative"},
"color":{"field":"g","type":"nominal"},
"strokeDash":{"field":"g","type":"nominal","legend":null}
}},
{"data":{"name":"curves"},"transform":[{"filter":"datum.p=='c' && datum.c==1"}],"mark":{"type":"point","shape":"M-1,-0.55H1V0.55H-1Z","filled":true,"size":49,"opacity":1},
"encoding":{"x":{"field":"t","type":"quantitative"},"y":{"field":"s","type":"quantitative"},"color":{"field":"g","type":"nominal"}}},
{"data":{"name":"curves"},"transform":[{"filter":"datum.p=='c' && datum.c==1"}],"mark":{"type":"point","shape":"M-1,0H1M0,-1V1","filled":false,"size":44,"strokeWidth":1.3,"opacity":1},
"encoding":{"x":{"field":"t","type":"quantitative"},"y":{"field":"s","type":"quantitative"},"color":{"field":"g","type":"nominal"}}},
{"data":{"name":"risk"},"transform":[{"filter":"datum.p=='c' && datum.g==1"}],"mark":{"type":"text","fontSize":7.5,"color":"#4040f0"},"encoding":{"x":{"field":"t","type":"quantitative"},"y":{"datum":0.7363},"text":{"field":"n"}}},
{"data":{"name":"risk"},"transform":[{"filter":"datum.p=='c' && datum.g==2"}],"mark":{"type":"text","fontSize":7.5,"color":"#d02838"},"encoding":{"x":{"field":"t","type":"quantitative"},"y":{"datum":0.7268},"text":{"field":"n"}}},
{"data":{"values":[{}]},"mark":{"type":"text","align":"right","dx":-9,"fontSize":9.5,"color":"#4040f0"},"encoding":{"x":{"datum":-0.552},"y":{"datum":0.7363},"text":{"value":"WHtR < 0.5"}}},
{"data":{"values":[{}]},"mark":{"type":"text","align":"right","dx":-9,"fontSize":9.5,"color":"#d02838"},"encoding":{"x":{"datum":-0.552},"y":{"datum":0.7268},"text":{"value":"WHtR >= 0.5"}}},
{"data":{"values":[{}]},"mark":{"type":"text","fontSize":11.7,"fontWeight":"bold","color":"#111"},"encoding":{"x":{"datum":5.479},"y":{"datum":1.0249},"text":{"value":"Kaplan-Meier Survival Plot"}}},
{"data":{"values":[{}]},"mark":{"type":"text","fontSize":9.7,"color":"#111"},"encoding":{"x":{"datum":5.479},"y":{"datum":1.0146},"text":{"value":"With Number of Subjects at Risk"}}},
{"data":{"values":[{}]},"mark":{"type":"rect","fill":"white","stroke":"#444","strokeWidth":1},"encoding":{"x":{"datum":9.353},"x2":{"datum":11.367},"y":{"datum":1.0},"y2":{"datum":0.9777}}},
{"data":{"values":[{}]},"mark":{"type":"text","fontSize":9.6,"color":"#222"},"encoding":{"x":{"datum":10.36},"y":{"datum":0.9937},"text":{"value":"+ Censored"}}},
{"data":{"values":[{}]},"mark":{"type":"text","fontSize":9.6,"color":"#222"},"encoding":{"x":{"datum":10.36},"y":{"datum":0.9843},"text":{"value":"Logrank p=0.1616"}}}
]
},
{
"width":563,"height":329,
"title":{"text":"(d) Waist-to-Hip Ratio","dx":0,"offset":42},
"layer":[
{"data":{"name":"curves"},"transform":[{"filter":"datum.p=='d'"}],"mark":{"type":"line","interpolate":"linear","strokeWidth":1},
"encoding":{
"x":{"field":"t","type":"quantitative","scale":{"domain":[-0.579,11.5],"nice":false,"zero":false},"axis":{"values":[0,2,4,6,8,10],"title":"Follow-up time (years)","labelPadding":2,"titlePadding":5}},
"y":{"field":"s","type":"quantitative","scale":{"domain":[0.7206,1.0052],"nice":false,"zero":false},"axis":{"values":[0.75,0.8,0.85,0.9,0.95,1],"format":".2f","title":"Survival Probability","titlePadding":9,"labelPadding":2}},
"color":{"field":"g","type":"nominal","scale":{"domain":[1,2],"range":["#3535e6","#c42032"]},"legend":{"orient":"none","legendX":139,"legendY":381,"direction":"vertical","title":"Waist-to-Hip Ratio (WHR)","titleOrient":"top","titleAnchor":"middle","titlePadding":1,"labelExpr":"datum.value==1?'1: WHR < 0.9 for men / WHR < 0.85 for women':'2: WHR >= 0.9 for men / WHR >= 0.85 for women'","encode":{"symbols":{"update":{"stroke":{"signal":"datum.value==2?'#c42032':'#3535e6'"},"strokeDash":{"signal":"datum.value==2?[5,3]:[1,0]"}}}}}},
"strokeDash":{"field":"g","type":"nominal","scale":{"domain":[1,2],"range":[[1,0],[5,3]]},"legend":null}
}},
{"data":{"name":"curves"},"transform":[{"filter":"datum.p=='d' && datum.c==1"}],"mark":{"type":"point","shape":"M-1,-0.55H1V0.55H-1Z","filled":true,"size":49,"opacity":1},
"encoding":{"x":{"field":"t","type":"quantitative"},"y":{"field":"s","type":"quantitative"},"color":{"field":"g","type":"nominal"}}},
{"data":{"name":"curves"},"transform":[{"filter":"datum.p=='d' && datum.c==1"}],"mark":{"type":"point","shape":"M-1,0H1M0,-1V1","filled":false,"size":44,"strokeWidth":1.3,"opacity":1},
"encoding":{"x":{"field":"t","type":"quantitative"},"y":{"field":"s","type":"quantitative"},"color":{"field":"g","type":"nominal"}}},
{"data":{"name":"risk"},"transform":[{"filter":"datum.p=='d' && datum.g==1"}],"mark":{"type":"text","fontSize":7.5,"color":"#4040f0"},"encoding":{"x":{"field":"t","type":"quantitative"},"y":{"datum":0.7344},"text":{"field":"n"}}},
{"data":{"name":"risk"},"transform":[{"filter":"datum.p=='d' && datum.g==2"}],"mark":{"type":"text","fontSize":7.5,"color":"#d02838"},"encoding":{"x":{"field":"t","type":"quantitative"},"y":{"datum":0.7249},"text":{"field":"n"}}},
{"data":{"values":[{}]},"mark":{"type":"text","align":"right","dx":-10,"fontSize":9.5,"color":"#4040f0"},"encoding":{"x":{"datum":-0.579},"y":{"datum":0.7344},"text":{"value":"1"}}},
{"data":{"values":[{}]},"mark":{"type":"text","align":"right","dx":-10,"fontSize":9.5,"color":"#d02838"},"encoding":{"x":{"datum":-0.579},"y":{"datum":0.7249},"text":{"value":"2"}}},
{"data":{"values":[{}]},"mark":{"type":"text","fontSize":11.7,"fontWeight":"bold","color":"#111"},"encoding":{"x":{"datum":5.46},"y":{"datum":1.0277},"text":{"value":"Kaplan-Meier Survival Plot"}}},
{"data":{"values":[{}]},"mark":{"type":"text","fontSize":9.7,"color":"#111"},"encoding":{"x":{"datum":5.46},"y":{"datum":1.0156},"text":{"value":"With Number of Subjects at Risk"}}},
{"data":{"values":[{}]},"mark":{"type":"rect","fill":"white","stroke":"#444","strokeWidth":1},"encoding":{"x":{"datum":9.506},"x2":{"datum":11.395},"y":{"datum":0.9991},"y2":{"datum":0.9758}}},
{"data":{"values":[{}]},"mark":{"type":"text","fontSize":9.6,"color":"#222"},"encoding":{"x":{"datum":10.45},"y":{"datum":0.9931},"text":{"value":"+ Censored"}}},
{"data":{"values":[{}]},"mark":{"type":"text","fontSize":9.6,"color":"#222"},"encoding":{"x":{"datum":10.45},"y":{"datum":0.9827},"text":{"value":"Logrank p <.0001"}}}
]
}
],
"columns":2,
"align":"none",
"spacing":{"row":72,"column":63},
"resolve":{"scale":{"color":"independent","strokeDash":"independent"}}
},
{
"width":1260,"height":20,"view":{"stroke":null},
"data":{"values":[{}]},
"layer":[
{"mark":{"type":"text","align":"left","dx":-53,"font":"Open Sans","fontSize":20,"fontWeight":"bold","color":"#222"},"encoding":{"x":{"datum":0,"type":"quantitative","scale":{"domain":[0,1]},"axis":null},"y":{"datum":0.5,"type":"quantitative","scale":{"domain":[0,1]},"axis":null},"text":{"value":"Fig. 1"}}},
{"mark":{"type":"text","align":"left","dx":3,"font":"Open Sans","fontSize":18.3,"color":"#222"},"encoding":{"x":{"datum":0,"type":"quantitative"},"y":{"datum":0.5,"type":"quantitative"},"text":{"value":"Kaplan-Meier survival plot for overall mortality by obesity status (obese/non-obese)"}}}
]
}
],
"columns":1,
"align":"none",
"spacing":16,
"resolve":{"scale":{"color":"independent","strokeDash":"independent"}},
"config":{
"view":{"stroke":"#555","strokeWidth":1},
"text":{"font":"Liberation Sans"},
"title":{"font":"Liberation Serif","fontSize":25.5,"fontWeight":"normal","color":"#111","anchor":"start","frame":"bounds"},
"axis":{"domain":false,"grid":false,"ticks":true,"tickSize":5,"tickColor":"#555","labelFont":"Liberation Sans","labelFontSize":10.5,"labelColor":"#333","titleFont":"Liberation Sans","titleFontSize":10.8,"titleFontWeight":"normal","titleColor":"#333"},
"legend":{"symbolType":"M-1,0H5.8","symbolSize":100,"symbolStrokeWidth":1,"strokeColor":"#555","fillColor":"white","padding":2,"labelFont":"Liberation Sans","labelFontSize":10.5,"labelColor":"#222","titleFont":"Liberation Sans","titleFontSize":10.5,"titleFontWeight":"normal","titleColor":"#222","titlePadding":18,"labelOffset":32,"columnPadding":10,"rowPadding":1,"labelLimit":400,"titleLimit":400}
}
}
